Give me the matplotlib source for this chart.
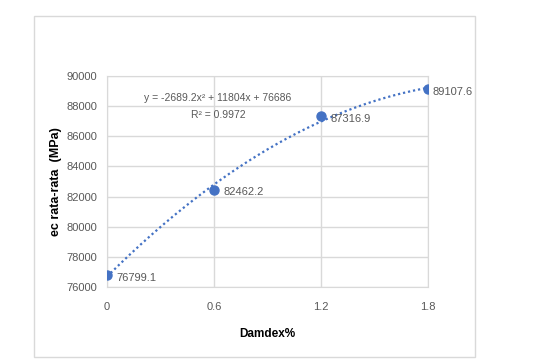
import numpy as np
import matplotlib.pyplot as plt
from matplotlib.patches import Rectangle

# data
damdex = np.array([0, 0.6, 1.2, 1.8])
ec_mean = np.array([76799.1, 82462.2, 87316.9, 89107.6])
point_labels = ["76799.1", "82462.2", "87316.9", "89107.6"]
x_ticks = [0, 0.6, 1.2, 1.8]
x_tick_labels = ["0", "0.6", "1.2", "1.8"]
y_ticks = [76000, 78000, 80000, 82000, 84000, 86000, 88000, 90000]

plt.rcParams['font.family'] = ['Liberation Sans', 'DejaVu Sans']

blue = '#4472C4'
grid_gray = '#D9D9D9'
text_gray = '#595959'

fig = plt.figure(figsize=(5.55, 3.64), dpi=100)
fig.patch.set_facecolor('white')

# outer chart border
fig.patches.append(Rectangle((34 / 555, 1 - 357 / 364), 441 / 555, 341 / 364,
                             transform=fig.transFigure, fill=False,
                             edgecolor=grid_gray, linewidth=1))

ax = fig.add_axes([107 / 555, 1 - 287 / 364, 321 / 555, 211 / 364])

# polynomial trendline (order 2) fitted from the data
p = np.polyfit(damdex, ec_mean, 2)
xs = np.linspace(0, 1.8, 200)
ax.plot(xs, np.polyval(p, xs), linestyle=(0, (1, 1.3)), color=blue, linewidth=1.6, zorder=2)

ax.plot(damdex, ec_mean, 'o', color=blue, markersize=6.5, zorder=3)

offsets = [7, 7, 7, 3]
for xv, yv, lab, off in zip(damdex, ec_mean, point_labels, offsets):
    ax.annotate(lab, (xv, yv), xytext=(off, -2), textcoords='offset points',
                ha='left', va='center', fontsize=8, color=text_gray,
                annotation_clip=False)

ax.text(0.346, 0.895, "y = -2689.2x\u00b2 + 11804x + 76686", transform=ax.transAxes,
        ha='center', va='center', fontsize=7.5, color=text_gray)
ax.text(0.346, 0.815, "R\u00b2 = 0.9972", transform=ax.transAxes,
        ha='center', va='center', fontsize=7.5, color=text_gray)

ax.set_xlim(0, 1.8)
ax.set_ylim(76000, 90000)
ax.set_xticks(x_ticks)
ax.set_xticklabels(x_tick_labels)
ax.set_yticks(y_ticks)
ax.tick_params(length=0, labelsize=8, labelcolor=text_gray)
ax.tick_params(axis='x', pad=11)
ax.tick_params(axis='y', pad=7)
ax.grid(True, color=grid_gray, linewidth=1)
ax.set_axisbelow(True)
for s in ax.spines.values():
    s.set_color(grid_gray)

ax.set_xlabel("Damdex%", fontsize=8.5, fontweight='bold', labelpad=11)
ax.set_ylabel("ec rata-rata  (MPa)", fontsize=9, fontweight='bold', labelpad=3)

fig.savefig('out.png', dpi=100)
